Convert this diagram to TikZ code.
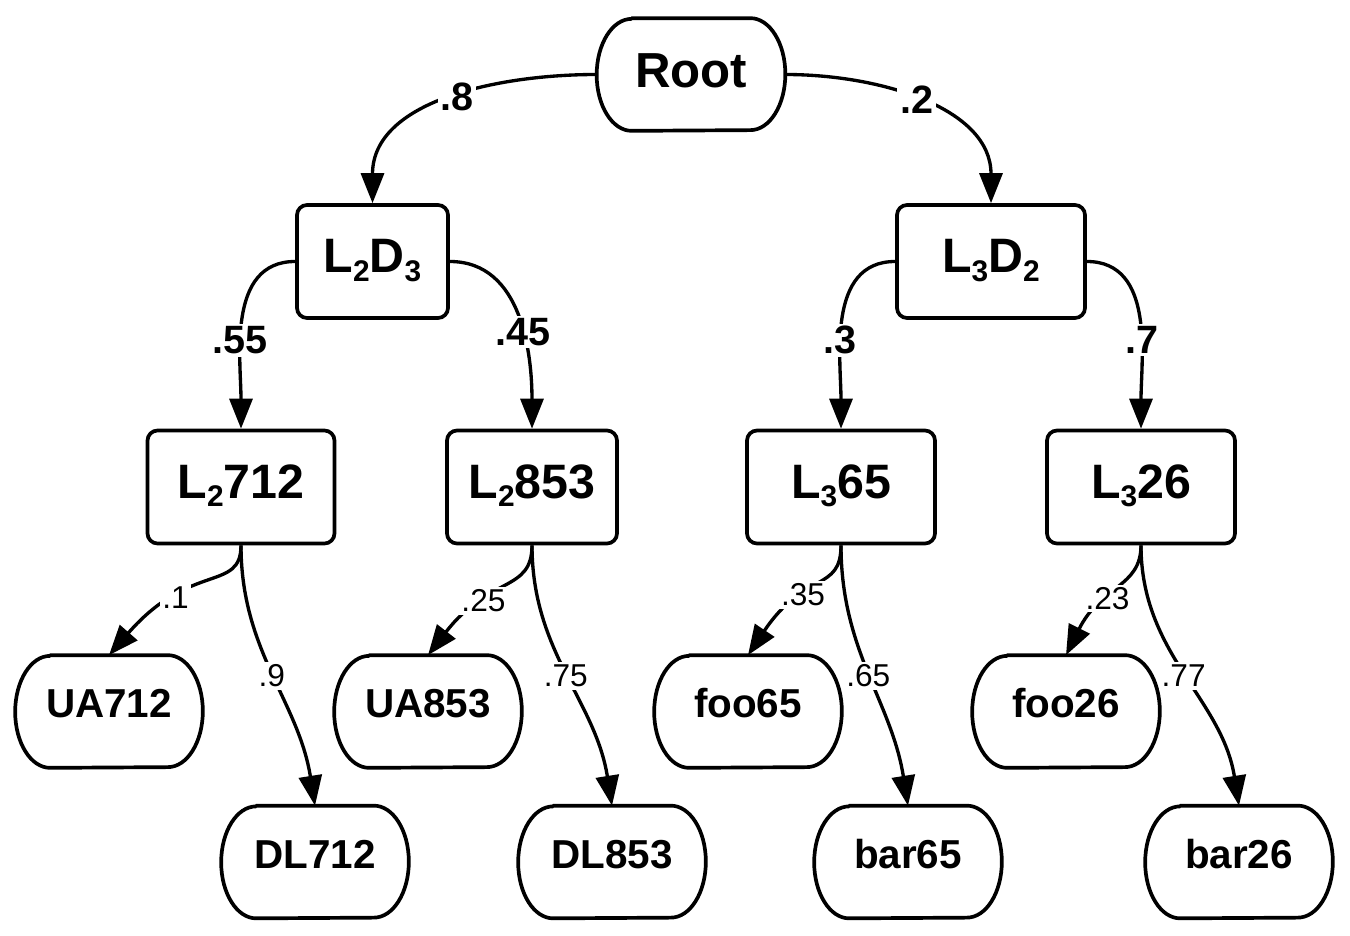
\documentclass[tikz,border=0pt]{standalone}
\usepackage{fontspec}
\setmainfont{Liberation Sans}
\usetikzlibrary{arrows.meta}
\newcommand\sbs[1]{\raisebox{-4.8pt}{\fontsize{17}{17}\selectfont #1}}
% outline with half-elliptic ends for the rounded (terminal) boxes
\newcommand\capsule[1]{%
  \draw[outline] ([xshift=0.7cm]#1.north west) -- ([xshift=-0.7cm]#1.north east)
    arc[start angle=90,end angle=-90,x radius=0.7cm,y radius=1.12cm]
    -- ([xshift=0.7cm]#1.south west)
    arc[start angle=270,end angle=90,x radius=0.7cm,y radius=1.12cm] -- cycle;}
\tikzset{
  outline/.style={line width=2.1pt, line join=round},
  rootbox/.style={minimum width=3.76cm, minimum height=2.24cm, inner sep=0pt,
    font=\fontsize{28}{28}\selectfont\bfseries, text height=0.707cm, text depth=0.18cm},
  midbox/.style={draw, line width=2.1pt, rounded corners=0.2cm, minimum height=2.26cm, inner sep=0pt,
    font=\fontsize{27.5}{27.5}\selectfont\bfseries, text height=0.69cm, text depth=0.24cm},
  leafbox/.style={minimum width=3.74cm, minimum height=2.24cm, inner sep=0pt,
    font=\fontsize{23}{23}\selectfont\bfseries, text height=0.58cm, text depth=0.34cm},
  edge/.style={line width=1.9pt, -{Triangle[length=0.6cm,width=0.46cm]}},
  blab/.style={fill=white, inner sep=1.5pt, font=\fontsize{22.5}{22.5}\selectfont\bfseries},
  slab/.style={fill=white, inner sep=1.5pt, font=\fontsize{18}{18}\selectfont},
}
\begin{document}
\begin{tikzpicture}[x=0.02cm,y=0.02cm]
\useasboundingbox (0,0) rectangle (1350,-936);
% nodes
\node[rootbox] (root) at (691,-74.5) {Root};
\node[midbox, minimum width=3.02cm] (l2d3) at (372.5,-261.5) {L\sbs{2}D\sbs{3}};
\node[midbox, minimum width=3.76cm] (l3d2) at (991,-261.5) {L\sbs{3}D\sbs{2}};
\node[midbox, minimum width=3.74cm] (l2712) at (241,-487) {L\sbs{2}712};
\node[midbox, minimum width=3.40cm] (l2853) at (532,-487) {L\sbs{2}853};
\node[midbox, minimum width=3.76cm] (l365) at (841,-487) {L\sbs{3}65};
\node[midbox, minimum width=3.76cm] (l326) at (1141,-487) {L\sbs{3}26};
\node[leafbox] (ua712) at (109,-711.5) {UA712};
\node[leafbox] (dl712) at (315,-862) {DL712};
\node[leafbox] (ua853) at (428,-711.5) {UA853};
\node[leafbox] (dl853) at (612,-862) {DL853};
\node[leafbox] (foo65) at (748,-711.5) {foo65};
\node[leafbox] (bar65) at (908,-862) {bar65};
\node[leafbox] (foo26) at (1066,-711.5) {foo26};
\node[leafbox] (bar26) at (1239,-862) {bar26};
\foreach \n in {root,ua712,dl712,ua853,dl853,foo65,bar65,foo26,bar26} {\capsule{\n}}
% edges
\draw[edge] (root.west) to[out=180,in=90] node[blab,pos=0.46]{.8} (l2d3.north);
\draw[edge] (root.east) to[out=0,in=90] node[blab,pos=0.47]{.2} (l3d2.north);
\draw[edge] (l2d3.west) to[out=180,in=90] node[blab,pos=0.6]{.55} (l2712.north);
\draw[edge] (l2d3.east) to[out=0,in=90] node[blab,pos=0.57]{.45} (l2853.north);
\draw[edge] (l3d2.west) to[out=180,in=90] node[blab,pos=0.6]{.3} (l365.north);
\draw[edge] (l3d2.east) to[out=0,in=90] node[blab,pos=0.6]{.7} (l326.north);
\draw[edge] (l2712.south) .. controls +(0,-47) and +(82,94) .. node[slab,pos=0.69]{.1} (ua712.north);
\draw[edge] (l2712.south) to[out=-90,in=99] node[slab,pos=0.5]{.9} (dl712.north);
\draw[edge] (l2853.south) .. controls +(0,-47) and +(62,80) .. node[slab,pos=0.66]{.25} (ua853.north);
\draw[edge] (l2853.south) to[out=-90,in=99] node[slab,pos=0.5]{.75} (dl853.north);
\draw[edge] (l365.south) .. controls +(0,-47) and +(57,85) .. node[slab,pos=0.62]{.35} (foo65.north);
\draw[edge] (l365.south) to[out=-90,in=99] node[slab,pos=0.5]{.65} (bar65.north);
\draw[edge] (l326.south) .. controls +(0,-42) and +(35,70) .. node[slab,pos=0.6]{.23} (foo26.north);
\draw[edge] (l326.south) to[out=-90,in=99] node[slab,pos=0.5]{.77} (bar26.north);
\end{tikzpicture}
\end{document}
